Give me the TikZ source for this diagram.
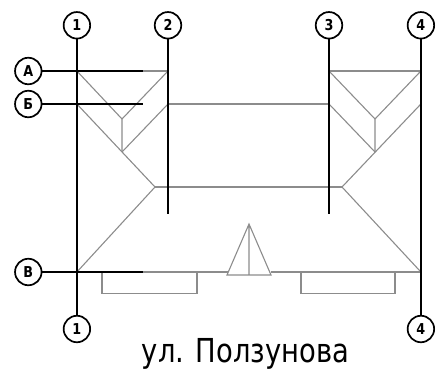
\documentclass[tikz,border=0pt]{standalone}
\usepackage{fontspec}
\setmainfont{DejaVu Sans}
\newfontfamily\streetfont[FakeStretch=0.83]{DejaVu Sans}
\newfontfamily\bubblefont[FakeStretch=0.85]{DejaVu Sans Bold}
\begin{document}
\begin{tikzpicture}[x=1pt,y=-1pt,
  roof/.style={draw=black!45,line width=1.1pt},
  axisline/.style={draw=black,line width=2pt},
  bubble/.style={circle,draw=black,line width=1.7pt,fill=white,minimum size=26.5pt,inner sep=0pt,font=\bubblefont\fontsize{15}{15}\selectfont},
  street/.style={inner sep=0pt,font=\streetfont\fontsize{33}{33}\selectfont}]
\useasboundingbox (0,0) rectangle (438,375);
% key points of the roof
\coordinate (a1) at (76.9,71); \coordinate (a2) at (168,71); \coordinate (a3) at (329,71); \coordinate (a4) at (420.9,71);
\coordinate (b1) at (76.9,104); \coordinate (b2) at (168,104); \coordinate (b3) at (329,104); \coordinate (b4) at (420.9,104);
\coordinate (vl1) at (122,119); \coordinate (vl2) at (122,152);
\coordinate (vr1) at (375,119); \coordinate (vr2) at (375,152);
\coordinate (rl) at (155,187); \coordinate (rr) at (342,187);
\coordinate (c1) at (76.9,272); \coordinate (c4) at (420.9,272);
\coordinate (pl) at (227,275); \coordinate (pr) at (271,275); \coordinate (pt) at (249,224); \coordinate (pm) at (249,275);
% roof
\draw[roof] (a1) -- (a2) (a3) -- (a4);
\draw[roof] (a1) -- (vl1) -- (a2) (vl1) -- (vl2);
\draw[roof] (b1) -- (rl) (b2) -- (vl2);
\draw[roof] (a3) -- (vr1) -- (a4) (vr1) -- (vr2);
\draw[roof] (b3) -- (vr2) (b4) -- (rr);
\draw[roof] (b2) -- (b3) (rl) -- (rr);
\draw[roof] (rl) -- (c1) (rr) -- (c4);
\draw[roof] (c1) -- (227.5,272) (270.5,272) -- (c4);
\draw[roof] (pl) -- (pt) -- (pr) -- cycle (pt) -- (pm);
\draw[roof] (102,272) -- (102,293.5) -- (197,293.5) -- (197,272);
\draw[roof] (301,272) -- (301,293.5) -- (395,293.5) -- (395,272);
% bubbles
\node[bubble] (n1) at (76.9,25.3) {1};
\node[bubble] (n2) at (168,25.3) {2};
\node[bubble] (n3) at (329,25.3) {3};
\node[bubble] (n4) at (420.9,25.3) {4};
\node[bubble] (m1) at (76.9,329) {1};
\node[bubble] (m4) at (420.9,329) {4};
\node[bubble] (la) at (28.3,71) {А};
\node[bubble] (lb) at (28.3,104) {Б};
\node[bubble] (lc) at (28.3,272) {В};
% axis ends
\coordinate (e2) at (168,214); \coordinate (e3) at (329,214);
\coordinate (ea) at (143,71); \coordinate (eb) at (143,104); \coordinate (ec) at (143,272);
\draw[axisline] (n1) -- (m1);
\draw[axisline] (n4) -- (m4);
\draw[axisline] (n2) -- (e2);
\draw[axisline] (n3) -- (e3);
\draw[axisline] (la) -- (ea);
\draw[axisline] (lb) -- (eb);
\draw[axisline] (lc) -- (ec);
\node[street,anchor=base] (s) at (245.5,362) {ул. Ползунова};
\end{tikzpicture}
\end{document}
